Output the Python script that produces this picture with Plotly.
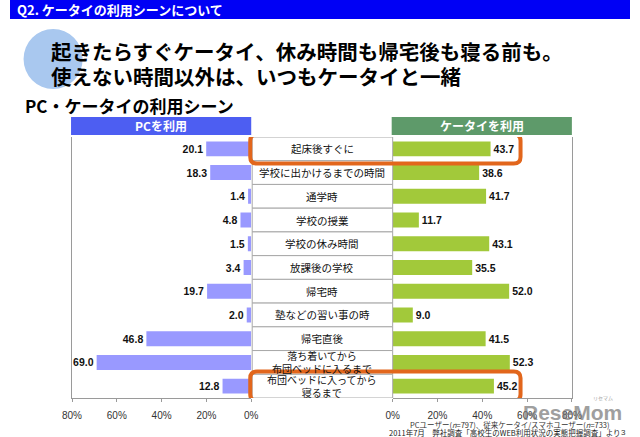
import plotly.graph_objects as go

# ---- data ----
scenes = ["起床後すぐに", "学校に出かけるまでの時間", "通学時", "学校の授業", "学校の休み時間",
          "放課後の学校", "帰宅時", "塾などの習い事の時", "帰宅直後",
          "落ち着いてから<br>布団ベッドに入るまで", "布団ベッドに入ってから<br>寝るまで"]
pc_values = [20.1, 18.3, 1.4, 4.8, 1.5, 3.4, 19.7, 2.0, 46.8, 69.0, 12.8]
mobile_values = [43.7, 38.6, 41.7, 11.7, 43.1, 35.5, 52.0, 9.0, 41.5, 52.3, 45.2]
highlighted = ["起床後すぐに", "布団ベッドに入ってから<br>寝るまで"]
tick_vals = [0, 20, 40, 60, 80]
tick_text = ["0%", "20%", "40%", "60%", "80%"]

W, H = 640, 437
JP = "Noto Sans CJK JP"
NUM = "Liberation Sans, Arial, sans-serif"

def px(x):
    return x / W

def py(y):
    return (H - y) / H

fig = go.Figure()
fig.add_trace(go.Bar(
    y=scenes, x=pc_values, orientation="h", xaxis="x", yaxis="y",
    marker=dict(color="#9999ff", line=dict(width=0)), width=0.63,
    texttemplate="<b>%{x:.1f}</b>", textposition="outside", cliponaxis=False,
    textfont=dict(family=NUM, size=10.5, color="#111"), showlegend=False))
fig.add_trace(go.Bar(
    y=scenes, x=mobile_values, orientation="h", xaxis="x2", yaxis="y2",
    marker=dict(color="#a2c93a", line=dict(width=0)), width=0.63,
    texttemplate="<b>%{x:.1f}</b>", textposition="outside", cliponaxis=False,
    textfont=dict(family=NUM, size=10.5, color="#111"), showlegend=False))

ydom = [py(398), py(137)]
n = len(scenes)
axis_common = dict(tickvals=tick_vals, ticktext=tick_text, showgrid=False, zeroline=False,
                   showline=True, linecolor="#9a9a9a", linewidth=1, ticks="outside",
                   ticklen=3, tickcolor="#9a9a9a",
                   tickfont=dict(family=NUM, size=10, color="#333"), ticklabelstandoff=5)
fig.update_layout(
    width=W, height=H, margin=dict(l=0, r=0, t=0, b=0),
    paper_bgcolor="white", plot_bgcolor="white",
    xaxis=dict(domain=[px(64), px(249)], range=[80, 0], anchor="y", **axis_common),
    xaxis2=dict(domain=[px(395), px(580)], range=[0, 80], anchor="y2", **axis_common),
    yaxis=dict(domain=ydom, type="category", categoryarray=scenes, range=[n - 0.5, -0.5],
               showticklabels=False, showgrid=False, zeroline=False, showline=True,
               linecolor="#9a9a9a", ticks="", anchor="x"),
    yaxis2=dict(domain=ydom, type="category", categoryarray=scenes, range=[n - 0.5, -0.5],
                showticklabels=False, showgrid=False, zeroline=False, showline=True,
                linecolor="#9a9a9a", ticks="", anchor="x2", side="right"),
    bargap=0.37,
)

shapes = []
annotations = []

# top banner
shapes.append(dict(type="rect", xref="paper", yref="paper", x0=0, x1=1, y0=py(19), y1=1,
                   fillcolor="#0000f5", line=dict(width=0), layer="below"))
annotations.append(dict(xref="paper", yref="paper", x=px(5), y=py(9.5), xanchor="left", yanchor="middle",
                        text="<b>Q2. ケータイの利用シーンについて</b>", showarrow=False,
                        font=dict(family=JP, size=13, color="white")))
# decorative circle
shapes.append(dict(type="circle", xref="paper", yref="paper", x0=px(14), x1=px(75), y0=py(89), y1=py(29),
                   fillcolor="#a9c8ef", line=dict(width=0), layer="below"))
annotations.append(dict(xref="paper", yref="paper", x=px(40), y=py(51), xanchor="left", yanchor="middle",
                        text="<b>起きたらすぐケータイ、休み時間も帰宅後も寝る前も。</b>", showarrow=False,
                        font=dict(family=JP, size=20.5, color="black")))
annotations.append(dict(xref="paper", yref="paper", x=px(40), y=py(76), xanchor="left", yanchor="middle",
                        text="<b>使えない時間以外は、いつもケータイと一緒</b>", showarrow=False,
                        font=dict(family=JP, size=20.5, color="black")))
annotations.append(dict(xref="paper", yref="paper", x=px(13), y=py(105), xanchor="left", yanchor="middle",
                        text="<b>PC・ケータイの利用シーン</b>", showarrow=False,
                        font=dict(family=JP, size=17, color="black")))

# panel headers
shapes.append(dict(type="rect", xref="paper", yref="paper", x0=px(63), x1=px(249), y0=py(135), y1=py(117),
                   fillcolor="#4d5ef2", line=dict(width=0)))
annotations.append(dict(xref="paper", yref="paper", x=px(156), y=py(126), xanchor="center", yanchor="middle",
                        text="<b>PCを利用</b>", showarrow=False, font=dict(family=JP, size=12, color="white")))
shapes.append(dict(type="rect", xref="paper", yref="paper", x0=px(394), x1=px(580), y0=py(135), y1=py(117),
                   fillcolor="#5e9a6a", line=dict(width=0)))
annotations.append(dict(xref="paper", yref="paper", x=px(487), y=py(126), xanchor="center", yanchor="middle",
                        text="<b>ケータイを利用</b>", showarrow=False, font=dict(family=JP, size=12, color="white")))

# centre label boxes
for i, s in enumerate(scenes):
    shapes.append(dict(type="rect", xref="paper", yref="y", x0=px(250), x1=px(395), y0=i - 0.5, y1=i + 0.5,
                       fillcolor="white", line=dict(color="#a8a8a8", width=1)))
    two = "<br>" in s
    annotations.append(dict(xref="paper", yref="y", x=px(322.5), y=s, xanchor="center", yanchor="middle",
                            text=s, showarrow=False,
                            font=dict(family=JP, size=10 if two else 10.5, color="#111"),
                            align="center"))

# orange highlight boxes
def rounded(x0, x1, y0, y1, rx, ry):
    return (f"M {x0+rx},{y0} L {x1-rx},{y0} Q {x1},{y0} {x1},{y0+ry} "
            f"L {x1},{y1-ry} Q {x1},{y1} {x1-rx},{y1} L {x0+rx},{y1} "
            f"Q {x0},{y1} {x0},{y1-ry} L {x0},{y0+ry} Q {x0},{y0} {x0+rx},{y0} Z")

for h in highlighted:
    i = scenes.index(h)
    shapes.append(dict(type="path", xref="paper", yref="y",
                       path=rounded(px(248), px(527), i - 0.62, i + 0.62, px(7), 0.28),
                       line=dict(color="#e2661c", width=4), fillcolor="rgba(0,0,0,0)"))

# watermark (drawn first so the footnotes sit on top)
annotations.append(dict(xref="paper", yref="paper", x=px(527), y=py(412), xanchor="left", yanchor="middle",
                        text="<b>ReseMom</b>", showarrow=False, opacity=0.7,
                        font=dict(family=NUM, size=21, color="#777")))
annotations.append(dict(xref="paper", yref="paper", x=px(612), y=py(398), xanchor="center", yanchor="middle",
                        text="リセマム", showarrow=False, opacity=0.7,
                        font=dict(family=JP, size=5, color="#777")))
# footnotes
annotations.append(dict(xref="paper", yref="paper", x=px(516), y=py(424.5), xanchor="center", yanchor="middle",
                        text="PCユーザー(<i>n</i>=797)、従来ケータイ/スマホユーザー(<i>n</i>=733)", showarrow=False,
                        font=dict(family=JP, size=7.5, color="#333")))
annotations.append(dict(xref="paper", yref="paper", x=px(389), y=py(432.5), xanchor="left", yanchor="middle",
                        text="2011年7月　弊社調査「高校生のWEB利用状況の実態把握調査」より", showarrow=False,
                        font=dict(family=JP, size=7.5, color="#222")))
annotations.append(dict(xref="paper", yref="paper", x=px(633), y=py(432.5), xanchor="center", yanchor="middle",
                        text="3", showarrow=False, font=dict(family=NUM, size=8, color="#333")))

fig.update_layout(shapes=shapes, annotations=annotations)
fig.write_html("out.html", config={"displayModeBar": False},
               post_script="document.body.style.margin='0';document.body.style.overflow='hidden';")
